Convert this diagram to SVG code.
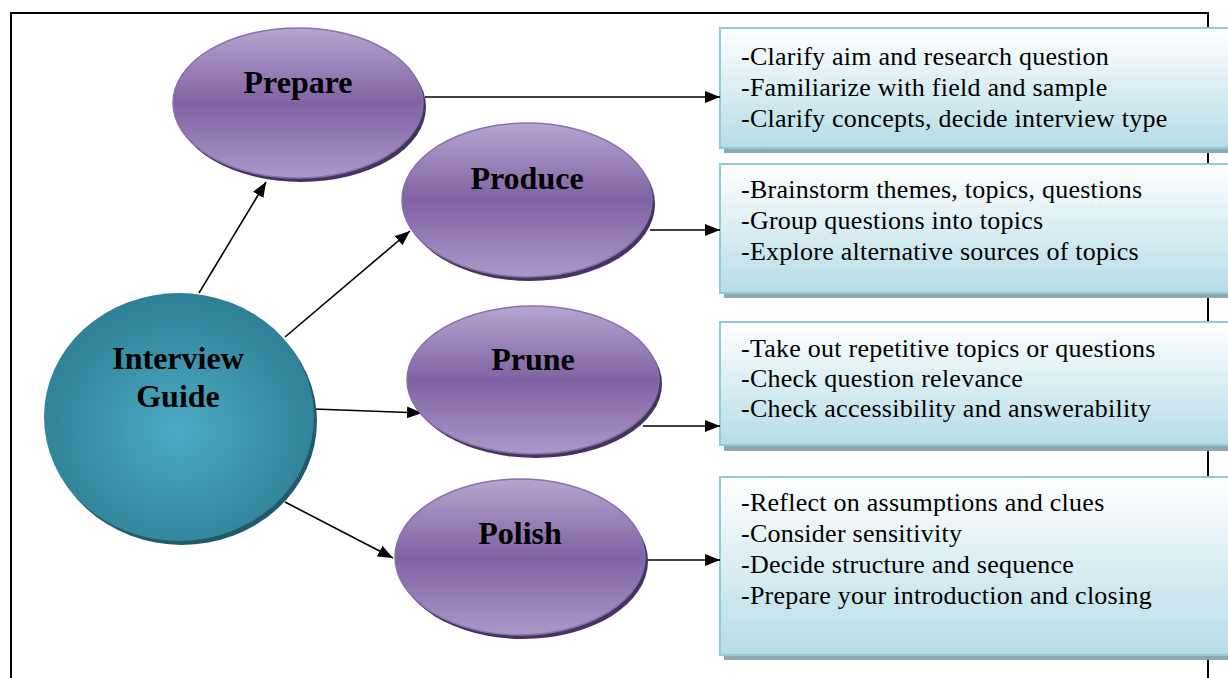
<svg xmlns="http://www.w3.org/2000/svg" width="1228" height="678" viewBox="0 0 1228 678">
<defs>
<linearGradient id="purp" x1="0" y1="0" x2="0" y2="1">
<stop offset="0" stop-color="#b7a5cf"/>
<stop offset="0.5" stop-color="#7f62a3"/>
<stop offset="1" stop-color="#ac98c8"/>
</linearGradient>
<radialGradient id="teal" cx="0.5" cy="0.55" r="0.55">
<stop offset="0" stop-color="#4aaac3"/>
<stop offset="1" stop-color="#2f8096"/>
</radialGradient>
<linearGradient id="boxg" x1="0" y1="0" x2="0" y2="1">
<stop offset="0" stop-color="#ffffff"/>
<stop offset="1" stop-color="#b5dce6"/>
</linearGradient>
<marker id="arr" viewBox="0 0 15 12" refX="15" refY="6" markerWidth="15" markerHeight="12" markerUnits="userSpaceOnUse" orient="auto">
<path d="M0,0 L15,6 L0,12 z" fill="#000"/>
</marker>
</defs>
<style>
.frame{fill:none;stroke:#000;stroke-width:2}
.pe{fill:url(#purp);stroke:#8a6fb0;stroke-width:1.5}
.ps{fill:#45355e}
.box{fill:url(#boxg);stroke:#92cada;stroke-width:2}
.bs{fill:#8fa9b0}
.lbl{font-family:"Liberation Serif","Times New Roman",serif;font-weight:bold;font-size:32px;fill:#000;text-anchor:middle}
.txt{font-family:"Liberation Serif","Times New Roman",serif;font-size:26px;letter-spacing:0.25px;fill:#000}
.con{stroke:#000;stroke-width:1.6;fill:none;marker-end:url(#arr)}
</style>
<rect width="1228" height="678" fill="#fff"/>
<path class="frame" d="M11,680 V13 H1208 V680"/>

<g id="box1">
<rect class="bs" x="724" y="33" width="510" height="120"/>
<rect class="box" x="720" y="28" width="512" height="120"/>
<text class="txt" x="741" y="65">-Clarify aim and research question</text>
<text class="txt" x="741" y="96">-Familiarize with field and sample</text>
<text class="txt" x="741" y="127">-Clarify concepts, decide interview type</text>
</g>
<g id="box2">
<rect class="bs" x="724" y="169" width="510" height="129"/>
<rect class="box" x="720" y="164" width="512" height="129"/>
<text class="txt" x="741" y="198">-Brainstorm themes, topics, questions</text>
<text class="txt" x="741" y="229">-Group questions into topics</text>
<text class="txt" x="741" y="260">-Explore alternative sources of topics</text>
</g>
<g id="box3">
<rect class="bs" x="724" y="327" width="510" height="124"/>
<rect class="box" x="720" y="322" width="512" height="123"/>
<text class="txt" x="741" y="357">-Take out repetitive topics or questions</text>
<text class="txt" x="741" y="387">-Check question relevance</text>
<text class="txt" x="741" y="417">-Check accessibility and answerability</text>
</g>
<g id="box4">
<rect class="bs" x="724" y="482" width="510" height="178"/>
<rect class="box" x="720" y="477" width="512" height="178"/>
<text class="txt" x="741" y="511">-Reflect on assumptions and clues</text>
<text class="txt" x="741" y="542">-Consider sensitivity</text>
<text class="txt" x="741" y="573">-Decide structure and sequence</text>
<text class="txt" x="741" y="604">-Prepare your introduction and closing</text>
</g>

<g id="connectors">
<line class="con" x1="199" y1="293" x2="266" y2="182"/>
<line class="con" x1="285" y1="337" x2="410" y2="231"/>
<line class="con" x1="314" y1="409" x2="422" y2="413"/>
<line class="con" x1="285" y1="502" x2="393" y2="558"/>
<line class="con" x1="425" y1="97" x2="720" y2="97"/>
<line class="con" x1="650" y1="230" x2="720" y2="230"/>
<line class="con" x1="643" y1="426" x2="720" y2="426"/>
<line class="con" x1="645" y1="560" x2="720" y2="560"/>
</g>

<g id="prepare">
<ellipse class="ps" cx="301" cy="107" rx="125" ry="75"/>
<ellipse class="pe" cx="298" cy="103" rx="125" ry="75"/>
<text class="lbl" x="298" y="93">Prepare</text>
</g>
<g id="produce">
<ellipse class="ps" cx="530" cy="204" rx="125" ry="77"/>
<ellipse class="pe" cx="527" cy="200" rx="125" ry="77"/>
<text class="lbl" x="527" y="189">Produce</text>
</g>
<g id="prune">
<ellipse class="ps" cx="536" cy="384" rx="126" ry="74"/>
<ellipse class="pe" cx="533" cy="380" rx="126" ry="74"/>
<text class="lbl" x="533" y="370">Prune</text>
</g>
<g id="polish">
<ellipse class="ps" cx="523" cy="561" rx="125" ry="78"/>
<ellipse class="pe" cx="520" cy="557" rx="125" ry="78"/>
<text class="lbl" x="520" y="544">Polish</text>
</g>
<g id="guide">
<ellipse cx="182" cy="421" rx="135" ry="124" fill="#235a6a"/>
<ellipse cx="179" cy="417" rx="135" ry="124" fill="url(#teal)"/>
<text class="lbl" x="178" y="369">Interview</text>
<text class="lbl" x="178" y="407">Guide</text>
</g>
</svg>
